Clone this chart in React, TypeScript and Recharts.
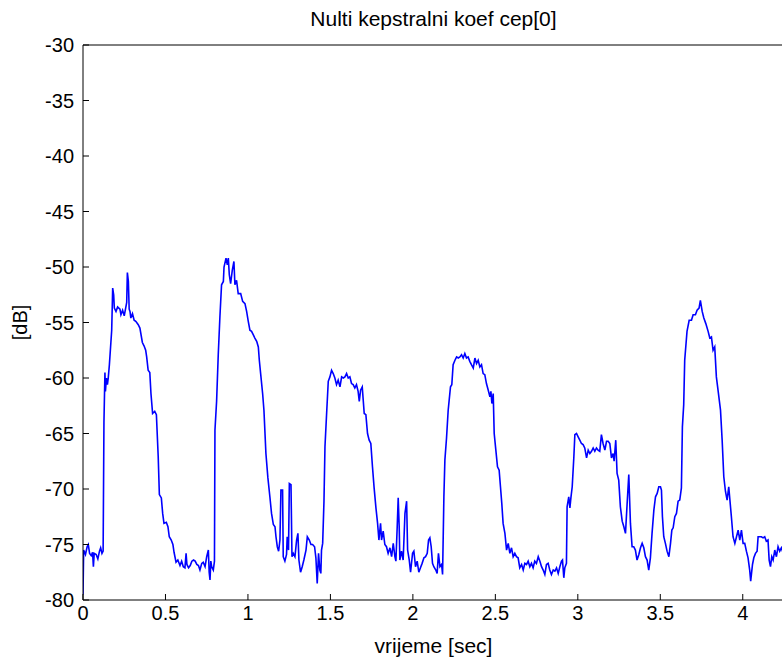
import { Line, LineChart, XAxis, YAxis } from "recharts";

// time axis in seconds, sampled where the curve changes
const time = [
  0.0, 0.004, 0.015, 0.025, 0.032, 0.04, 0.05, 0.058, 0.063, 0.068, 0.08, 0.09, 0.1, 0.107, 0.115, 0.122,
  0.127, 0.133, 0.136, 0.142, 0.148, 0.153, 0.16, 0.174, 0.18, 0.186, 0.19, 0.2, 0.21, 0.224, 0.23, 0.24,
  0.25, 0.265, 0.269, 0.275, 0.28, 0.285, 0.29, 0.3, 0.31, 0.32, 0.335, 0.345, 0.36, 0.37, 0.38, 0.386,
  0.395, 0.405, 0.412, 0.422, 0.435, 0.445, 0.456, 0.463, 0.475, 0.483, 0.491, 0.505, 0.515, 0.523, 0.535,
  0.545, 0.552, 0.564, 0.575, 0.588, 0.598, 0.608, 0.618, 0.625, 0.63, 0.64, 0.65, 0.66, 0.67, 0.68, 0.69,
  0.7, 0.709, 0.72, 0.729, 0.74, 0.75, 0.76, 0.765, 0.77, 0.775, 0.78, 0.79, 0.797,
  0.8, 0.81, 0.82, 0.83, 0.84, 0.851, 0.855, 0.867, 0.875, 0.881, 0.887, 0.895, 0.905, 0.915, 0.921, 0.931,
  0.941, 0.956, 0.968, 0.982, 0.992, 1.002, 1.012, 1.022, 1.032, 1.042, 1.053, 1.063, 1.069, 1.077, 1.089,
  1.097, 1.109, 1.121, 1.133, 1.143, 1.154, 1.164, 1.17, 1.178, 1.186, 1.194, 1.2, 1.21, 1.214, 1.224, 1.234,
  1.238, 1.246, 1.251, 1.261, 1.267, 1.275, 1.285, 1.295, 1.303, 1.309, 1.319, 1.329, 1.339, 1.352, 1.36,
  1.372, 1.382, 1.392, 1.404, 1.412, 1.42, 1.428, 1.436,
  1.442, 1.446, 1.453, 1.461, 1.467, 1.477, 1.487, 1.497, 1.507, 1.517, 1.527, 1.537, 1.547, 1.558, 1.568,
  1.578, 1.588, 1.598, 1.608, 1.618, 1.628, 1.638, 1.648, 1.658, 1.668, 1.675, 1.683, 1.693, 1.699, 1.705,
  1.715, 1.725, 1.735, 1.745, 1.755, 1.765, 1.776, 1.786, 1.794, 1.804, 1.81, 1.82, 1.83, 1.84, 1.85, 1.861,
  1.871, 1.881, 1.891, 1.897, 1.905, 1.911, 1.917, 1.921, 1.931, 1.941, 1.952, 1.962, 1.968, 1.978, 1.986,
  1.998, 2.006, 2.016, 2.026, 2.036, 2.046, 2.056, 2.067, 2.077, 2.087, 2.095, 2.103, 2.111, 2.119, 2.127,
  2.139, 2.147, 2.155, 2.164,
  2.174, 2.18, 2.188, 2.194, 2.204, 2.214, 2.228, 2.236, 2.244, 2.255, 2.265, 2.275, 2.285, 2.295, 2.305,
  2.315, 2.325, 2.335, 2.345, 2.355, 2.366, 2.376, 2.386, 2.396, 2.406, 2.416, 2.426, 2.436, 2.446, 2.457,
  2.467, 2.473, 2.479, 2.487, 2.493, 2.503, 2.513, 2.523, 2.531, 2.539, 2.547, 2.558, 2.568, 2.578, 2.588,
  2.598, 2.608, 2.618, 2.628, 2.638, 2.648, 2.659, 2.669, 2.679, 2.689, 2.699, 2.709, 2.719, 2.729, 2.739,
  2.749, 2.76, 2.77, 2.78, 2.79, 2.8, 2.81, 2.82, 2.83, 2.84, 2.851, 2.861, 2.871, 2.881, 2.891,
  2.901, 2.907, 2.915, 2.921, 2.931, 2.935, 2.945, 2.952, 2.958, 2.966, 2.976, 2.982, 2.992, 3.002, 3.012,
  3.022, 3.032, 3.042, 3.053, 3.063, 3.073, 3.083, 3.093, 3.103, 3.113, 3.123, 3.133, 3.143, 3.153, 3.164,
  3.174, 3.184, 3.194, 3.204, 3.214, 3.22, 3.23, 3.238, 3.248, 3.258, 3.269, 3.279, 3.289, 3.299, 3.309,
  3.319, 3.329, 3.339, 3.349, 3.359, 3.37, 3.38, 3.39, 3.4, 3.41, 3.42, 3.43, 3.44, 3.45, 3.461, 3.471,
  3.481, 3.491, 3.501, 3.507, 3.513, 3.521, 3.531, 3.541, 3.552, 3.562, 3.57, 3.578, 3.588, 3.598, 3.608,
  3.618,
  3.628, 3.634, 3.642, 3.648, 3.662, 3.675, 3.689, 3.699, 3.713, 3.723, 3.735, 3.743, 3.754, 3.764, 3.776,
  3.79, 3.8, 3.81, 3.82, 3.83, 3.84, 3.851, 3.865, 3.875, 3.885, 3.895, 3.905, 3.915, 3.931, 3.941, 3.952,
  3.962, 3.972, 3.982, 3.992, 4.002, 4.012, 4.022, 4.032, 4.042, 4.048, 4.059, 4.067, 4.077, 4.087, 4.093,
  4.103, 4.113, 4.123, 4.133, 4.143, 4.153, 4.16, 4.168, 4.176, 4.184, 4.194, 4.204, 4.214, 4.224, 4.234,
  4.245, 4.25,
];

// cep[0] in dB, one value per time entry
const cep0 = [
  -79.5, -75.5, -75.9, -75.2, -75.0, -75.8, -76.0, -75.7, -77.0, -75.8, -75.9, -76.3, -75.6, -75.3, -75.8, -75.6,
  -64.0, -59.5, -61.2, -60.0, -60.6, -60.0, -58.8, -55.7, -51.9, -52.5, -53.7, -54.0, -53.6, -53.8, -54.3, -53.9,
  -54.4, -53.2, -50.5, -51.3, -53.8, -54.0, -54.6, -54.2, -54.8, -54.9, -55.2, -55.5, -56.8, -57.1, -57.5, -58.1,
  -59.3, -59.5, -61.4, -63.2, -63.0, -63.3, -67.1, -70.5, -70.8, -72.2, -73.1, -73.0, -73.4, -74.3, -74.6,
  -75.0, -75.7, -76.6, -76.4, -76.9, -76.5, -77.0, -77.1, -75.8, -76.8, -77.1, -76.9, -76.5, -76.4, -76.5, -76.8,
  -76.9, -77.3, -76.7, -76.6, -77.0, -76.1, -75.5, -77.5, -78.2, -76.5, -77.0, -77.3, -76.5,
  -64.7, -62.1, -57.9, -54.5, -51.6, -51.3, -50.0, -49.2, -49.8, -49.2, -50.7, -51.5, -50.3, -49.5, -51.6, -51.2,
  -52.4, -52.4, -53.1, -53.3, -54.0, -54.9, -55.7, -55.8, -56.1, -56.4, -56.7, -57.2, -58.4, -59.6, -61.4,
  -62.9, -66.8, -69.0, -70.7, -72.2, -73.2, -73.4, -74.3, -75.2, -75.6, -74.6, -70.1, -70.1, -76.1, -76.5, -75.9,
  -74.3, -75.5, -69.5, -69.6, -76.1, -75.8, -76.1, -74.6, -74.0, -76.4, -77.5, -77.0, -76.4, -75.5, -74.3,
  -74.6, -75.0, -75.0, -75.2, -76.2, -78.5, -75.8, -77.3,
  -77.6, -75.5, -74.9, -71.1, -66.2, -63.2, -60.3, -59.9, -59.3, -59.6, -60.0, -60.6, -60.2, -60.8, -59.9,
  -60.0, -59.9, -59.6, -60.0, -59.9, -60.5, -60.6, -60.9, -60.6, -61.2, -62.1, -61.1, -60.8, -62.0, -63.2,
  -63.3, -65.0, -65.6, -65.9, -68.0, -69.9, -71.7, -73.1, -74.6, -73.1, -74.6, -73.8, -75.0, -75.2, -75.8, -75.3,
  -76.1, -74.9, -76.1, -76.5, -73.4, -70.8, -73.4, -76.4, -75.6, -76.4, -72.2, -71.1, -75.5, -76.4, -77.5,
  -75.8, -75.6, -77.0, -76.5, -77.5, -77.1, -76.7, -76.2, -76.1, -75.8, -74.6, -74.4, -75.2, -76.7, -77.0,
  -77.3, -77.6, -75.8, -77.0,
  -76.8, -77.7, -70.7, -67.4, -65.4, -62.9, -60.8, -60.6, -58.8, -58.4, -58.1, -58.2, -58.1, -57.9, -58.2,
  -57.8, -58.2, -58.1, -58.5, -58.8, -59.1, -58.2, -58.7, -58.4, -59.0, -58.8, -59.6, -59.7, -60.5, -61.1,
  -61.7, -61.2, -62.3, -61.4, -65.0, -66.5, -68.0, -68.3, -69.8, -71.3, -73.1, -74.0, -75.5, -74.9, -75.8,
  -75.3, -76.1, -75.8, -76.1, -76.2, -77.1, -76.8, -77.3, -76.7, -76.8, -76.5, -77.0, -76.7, -77.1, -76.5,
  -76.7, -76.1, -76.5, -77.0, -77.3, -77.7, -76.8, -76.7, -77.3, -77.7, -77.3, -77.4, -77.1, -77.6, -77.0,
  -76.5, -76.4, -78.0, -77.1, -76.7, -71.6, -70.7, -71.7, -70.8, -69.8, -67.1, -65.1, -65.0, -65.3, -65.6,
  -65.9, -66.0, -66.3, -67.2, -66.5, -66.8, -66.6, -66.3, -66.6, -66.3, -66.5, -66.6, -65.1, -65.9, -66.5,
  -65.7, -65.7, -65.9, -67.2, -66.8, -67.5, -65.6, -68.6, -69.2, -71.6, -72.9, -73.4, -74.0, -71.3, -68.7,
  -73.1, -75.2, -75.2, -75.5, -76.4, -75.9, -75.3, -74.9, -75.3, -76.1, -76.4, -77.3, -76.2, -74.0, -71.9, -70.7,
  -70.4, -69.8, -69.8, -70.1, -72.5, -74.3, -74.9, -75.6, -76.1, -74.9, -73.7, -73.5, -72.5, -72.2, -71.1,
  -71.0,
  -69.9, -64.4, -62.4, -58.4, -55.8, -54.8, -54.8, -54.3, -54.3, -53.9, -53.7, -53.0, -54.0, -54.6, -55.1,
  -55.8, -56.4, -56.3, -57.5, -57.2, -59.9, -61.2, -62.9, -65.6, -68.9, -70.2, -71.0, -69.8, -72.5, -74.3, -74.9,
  -74.3, -73.7, -74.6, -73.7, -74.9, -74.9, -75.6, -76.2, -77.3, -78.3, -76.8, -76.2, -75.8, -75.6, -74.3,
  -74.3, -74.3, -74.4, -74.3, -74.7, -74.6, -76.4, -77.0, -76.1, -76.4, -75.5, -76.1, -75.2, -75.6, -75.3,
  -75.8, -75.4,
];

const xTicks = [0, 0.5, 1, 1.5, 2, 2.5, 3, 3.5, 4];
const yTicks = [-80, -75, -70, -65, -60, -55, -50, -45, -40, -35, -30];

const chartData = time.map((t, i) => ({ t, v: cep0[i] }));

const tickStyle = { fontSize: 20, fill: "#000" };

export default function App() {
  return (
    <div
      style={{
        position: "fixed",
        left: 0,
        top: 0,
        width: 782,
        height: 658,
        overflow: "hidden",
        background: "#fff",
        fontFamily: "'Liberation Sans', Arial, sans-serif",
      }}
    >
      <LineChart width={800} height={658} data={chartData} margin={{ top: 40, right: 0, bottom: 0, left: 0 }}>
        <XAxis
          dataKey="t"
          type="number"
          domain={[0, 4.25]}
          ticks={xTicks}
          allowDataOverflow
          height={58}
          stroke="#000"
          tickSize={-6}
          tickMargin={12}
          tick={tickStyle}
          label={{ value: "vrijeme [sec]", position: "insideBottom", offset: 5, fill: "#000", fontSize: 21 }}
        />
        <XAxis
          xAxisId="top"
          orientation="top"
          dataKey="t"
          type="number"
          domain={[0, 4.25]}
          ticks={xTicks}
          allowDataOverflow
          height={5}
          stroke="#000"
          tickSize={-6}
          tick={false}
          label={{ value: "Nulti kepstralni koef cep[0]", position: "top", offset: 14, fill: "#000", fontSize: 21 }}
        />
        <YAxis
          type="number"
          domain={[-80, -30]}
          ticks={yTicks}
          allowDataOverflow
          width={83}
          stroke="#000"
          tickSize={-6}
          tickMargin={15}
          tick={tickStyle}
          label={{
            value: "[dB]",
            angle: -90,
            position: "insideLeft",
            offset: 20,
            fill: "#000",
            fontSize: 20,
            style: { textAnchor: "middle" },
          }}
        />
        <YAxis
          yAxisId="right"
          orientation="right"
          type="number"
          domain={[-80, -30]}
          ticks={yTicks}
          allowDataOverflow
          width={16}
          stroke="#000"
          tickSize={-6}
          tick={false}
        />
        <Line
          type="linear"
          dataKey="v"
          stroke="#0000ff"
          strokeWidth={1.6}
          dot={false}
          isAnimationActive={false}
        />
      </LineChart>
    </div>
  );
}
